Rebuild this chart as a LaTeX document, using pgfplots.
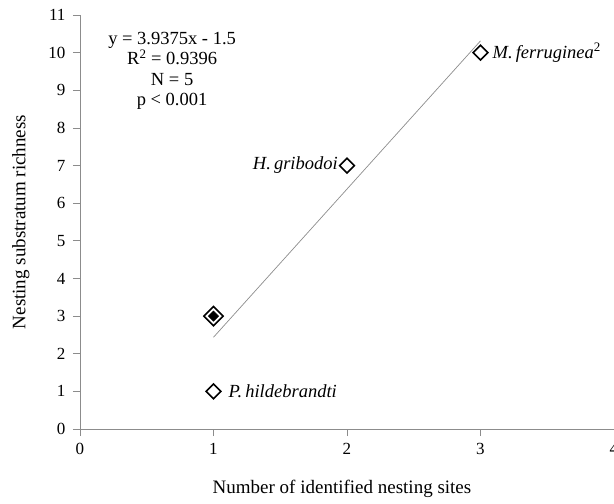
\documentclass[border=0pt]{standalone}
\usepackage{pgfplots}
\pgfplotsset{compat=1.18}
\usepackage{fontspec}
\setmainfont{Liberation Serif}
\begin{document}
\begin{tikzpicture}[x=1pt,y=1pt]
\begin{axis}[
  at={(0,0)}, anchor=south west,
  scale only axis, width=534pt, height=414pt,
  xmin=0, xmax=4, ymin=0, ymax=11,
  xtick={0,1,2,3,4}, ytick={0,1,...,11},
  axis x line*=bottom, axis y line*=left,
  axis line style={color=gray!90, line width=0.7pt},
  tick style={color=gray!90, line width=0.7pt},
  tick align=outside, major tick length=7pt,
  /pgf/number format/assume math mode=true,
  tick label style={font=\fontsize{17}{19}\selectfont},
  xticklabel style={yshift=-4pt},
  yticklabel style={xshift=-4pt},
  xlabel={Number of identified nesting sites},
  ylabel={Nesting substratum richness},
  label style={font=\fontsize{19}{21}\selectfont},
  xlabel style={yshift=-18pt, xshift=-5pt},
  ylabel style={yshift=12pt},
  clip=false,
]
% trend line
\addplot[color=gray!90, line width=0.7pt] coordinates {(1,2.4375) (3,10.3125)};
% single points
\addplot[only marks, mark=square, mark size=5.2pt, mark options={rotate=45, line width=1.6pt, draw=black, fill=white}] coordinates {(1,1) (2,7) (3,10)};
% double point (two overlapping observations)
\addplot[only marks, mark=square, mark size=6.8pt, mark options={rotate=45, line width=1.6pt, draw=black, fill=white}] coordinates {(1,3)};
\addplot[only marks, mark=square*, mark size=3.6pt, mark options={rotate=45, line width=0.5pt, draw=black, fill=black}] coordinates {(1,3)};
% labels
\node[anchor=west, inner sep=0pt, xshift=12pt, font=\fontsize{18.5}{20}\selectfont\itshape] at (axis cs:3,10) {M.\,ferruginea\textsuperscript{\upshape 2}};
\node[anchor=east, inner sep=0pt, xshift=-9pt, font=\fontsize{18.5}{20}\selectfont\itshape] at (axis cs:2,7) {H.\,gribodoi};
\node[anchor=west, inner sep=0pt, xshift=15pt, font=\fontsize{18.5}{20}\selectfont\itshape] at (axis cs:1,1) {P.\,hildebrandti};
\node[align=center, inner sep=0pt, font=\fontsize{18.5}{20.5}\selectfont] at (axis cs:0.69,9.52) {y = 3.9375x - 1.5\\R\textsuperscript{2} = 0.9396\\N = 5\\p < 0.001};
\end{axis}
\pgfresetboundingbox
\useasboundingbox (-80pt,-75pt) rectangle (534pt,429pt);
\end{tikzpicture}
\end{document}
